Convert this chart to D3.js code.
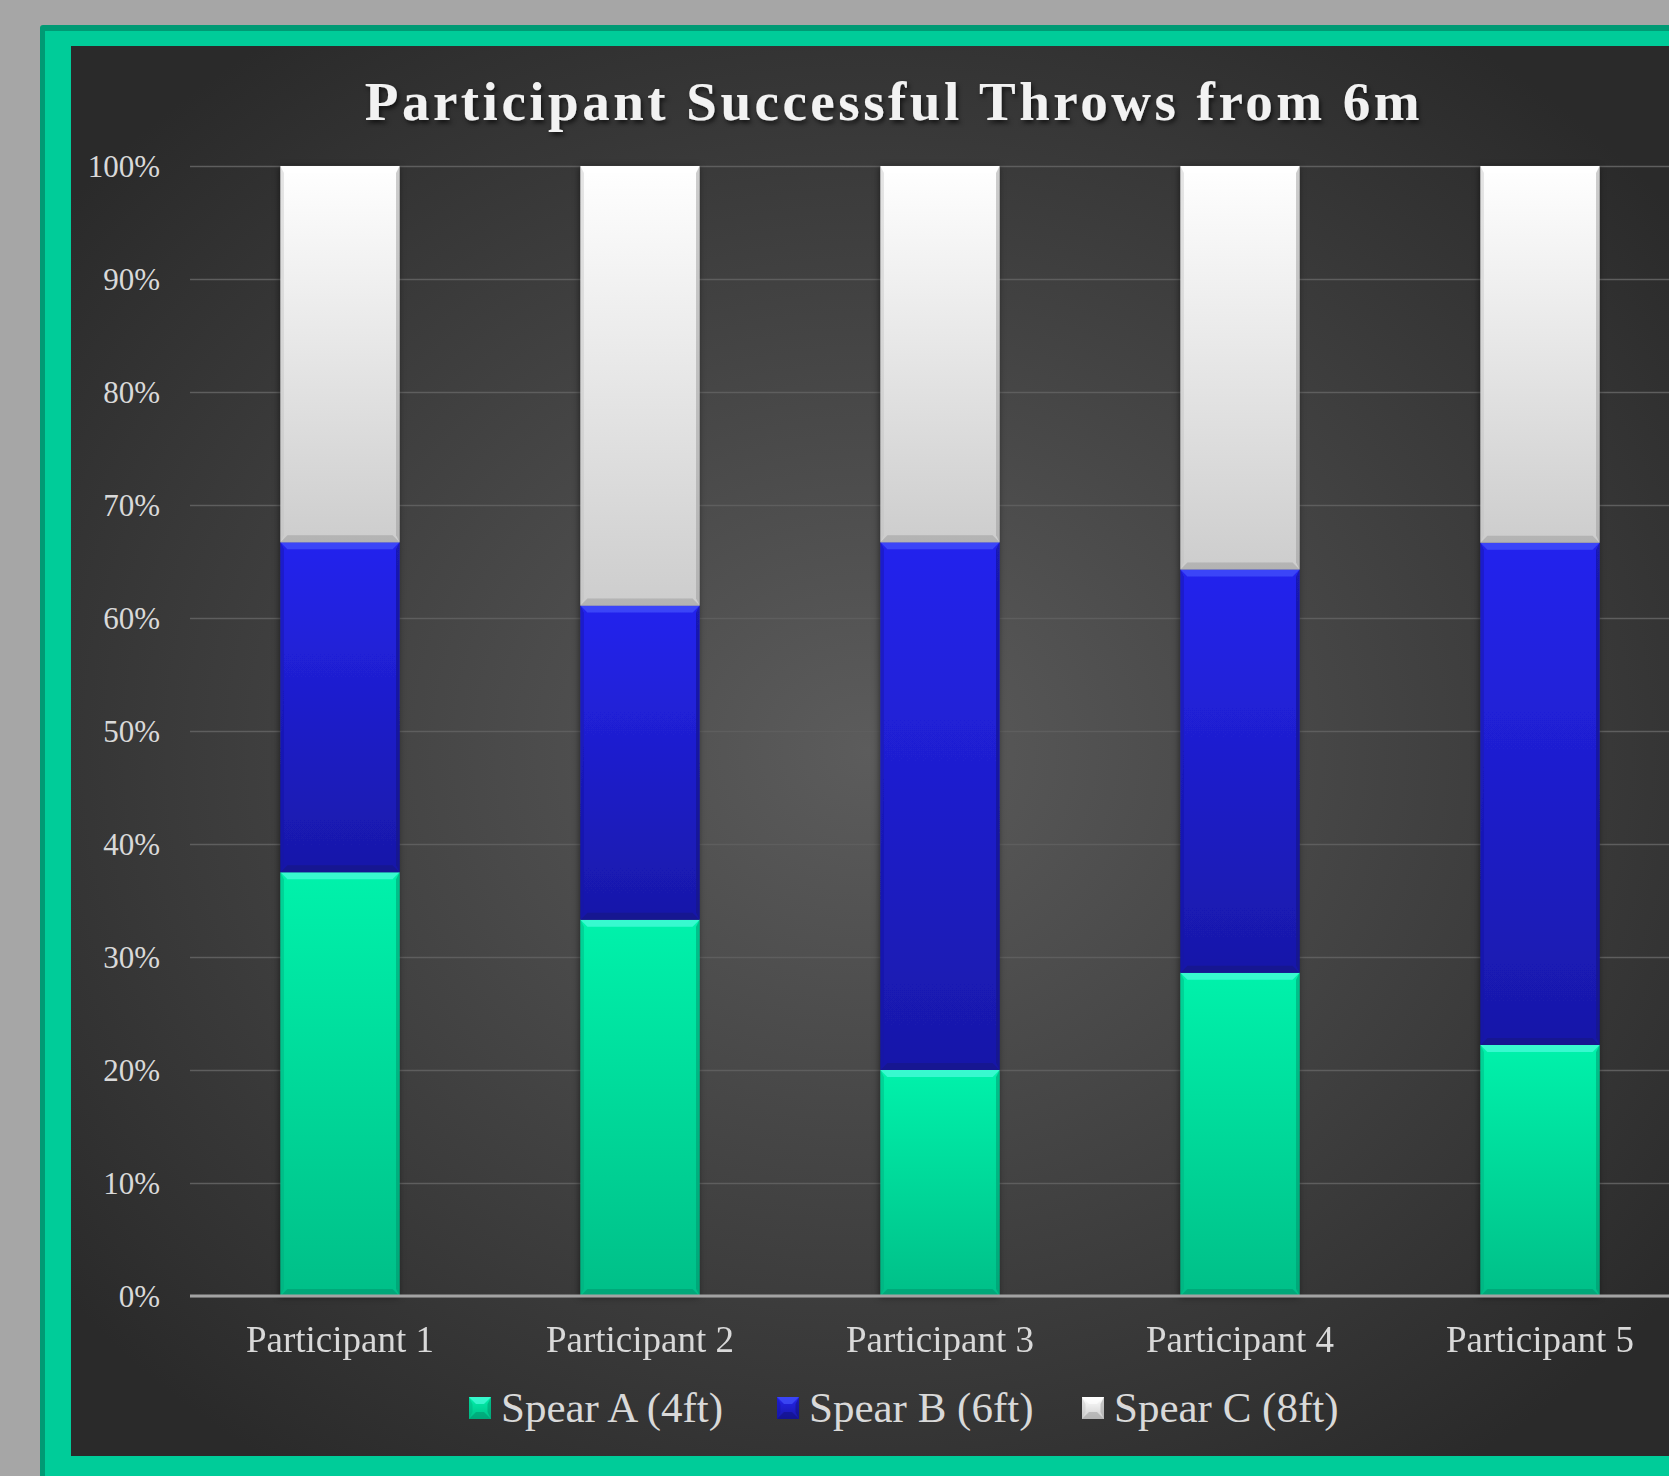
<!DOCTYPE html>
<html>
<head>
<meta charset="utf-8">
<script src="https://cdn.jsdelivr.net/npm/d3@7/dist/d3.min.js"></script>
<style>
  html, body { margin: 0; padding: 0; background: #a6a6a6; }
  svg { display: block; }
</style>
</head>
<body>
<svg id="chart" width="1669" height="1476"></svg>
<script>
// chart values (percent of successful throws per participant)
var participants = ["Participant 1", "Participant 2", "Participant 3", "Participant 4", "Participant 5"];
var spearNames = ["Spear A (4ft)", "Spear B (6ft)", "Spear C (8ft)"];
var spearA = [37.5, 33.3, 20.0, 28.6, 22.2];
var spearB = [29.2, 27.8, 46.7, 35.7, 44.4];
var spearC = [33.3, 38.9, 33.3, 35.7, 33.3];
var yTicks = [0, 0.1, 0.2, 0.3, 0.4, 0.5, 0.6, 0.7, 0.8, 0.9, 1];

var colors = [
    {top: "#00f2ab", bot: "#00bf88", hi: "#5cffe8", lo: "#00906a", side: "#00a87a"},
    {top: "#2424ee", bot: "#1818a8", hi: "#4a5cff", lo: "#10107a", side: "#1414a0"},
    {top: "#ffffff", bot: "#cdcdcd", hi: "#ffffff", lo: "#9a9a9a", side: "#bdbdbd"}
];

var svg = d3.select("#chart");
var defs = svg.append("defs");

// background of the panel
var bg = defs.append("radialGradient").attr("id", "bg")
    .attr("cx", "48%").attr("cy", "50%").attr("r", "62%");
bg.append("stop").attr("offset", "0%").attr("stop-color", "#5c5c5c");
bg.append("stop").attr("offset", "100%").attr("stop-color", "#2a2a2a");

colors.forEach(function (c, i) {
    var g = defs.append("linearGradient").attr("id", "grad" + i)
        .attr("x1", 0).attr("y1", 0).attr("x2", 0).attr("y2", 1);
    g.append("stop").attr("offset", "0%").attr("stop-color", c.top);
    g.append("stop").attr("offset", "100%").attr("stop-color", c.bot);
});

var shadow = defs.append("filter").attr("id", "shadow")
    .attr("x", "-20%").attr("y", "-5%").attr("width", "140%").attr("height", "110%");
shadow.append("feDropShadow").attr("dx", -1).attr("dy", 1).attr("stdDeviation", 3)
    .attr("flood-color", "#000").attr("flood-opacity", 0.5);

var tshadow = defs.append("filter").attr("id", "tshadow")
    .attr("x", "-5%").attr("y", "-20%").attr("width", "110%").attr("height", "140%");
tshadow.append("feDropShadow").attr("dx", 2).attr("dy", 3).attr("stdDeviation", 2)
    .attr("flood-color", "#000").attr("flood-opacity", 0.6);

// frame
svg.append("rect").attr("x", 40).attr("y", 25).attr("width", 1700).attr("height", 1500)
    .attr("rx", 3).attr("fill", "#009a74");
svg.append("rect").attr("x", 45).attr("y", 31).attr("width", 1700).attr("height", 1500)
    .attr("fill", "#00cc99");
svg.append("rect").attr("x", 71).attr("y", 46).attr("width", 1660).attr("height", 1410)
    .attr("fill", "url(#bg)");

var x = d3.scaleBand().domain(participants).range([190, 1690])
    .paddingInner(0.603).paddingOuter(0.3015);
var y = d3.scaleLinear().domain([0, 1]).range([1296, 166]);

// gridlines + y labels
var yAxis = svg.append("g").attr("transform", "translate(190,0)")
    .call(d3.axisLeft(y).tickValues(yTicks).tickSize(-1500).tickPadding(30)
        .tickFormat(d3.format(".0%")));
yAxis.select(".domain").remove();
yAxis.selectAll(".tick line").attr("stroke", "#5e5e5e").attr("stroke-width", 1.5);
yAxis.selectAll(".tick text")
    .attr("fill", "#d9d9d9")
    .style("font-family", "'Liberation Serif', 'Times New Roman', serif")
    .style("font-size", "31px")
    .attr("dy", "0.34em");

var rows = participants.map(function (p, i) {
    return {name: p, A: spearA[i], B: spearB[i], C: spearC[i]};
});
var series = d3.stack().keys(["A", "B", "C"]).offset(d3.stackOffsetExpand)(rows);

var bev = 7;
function bevel(sel, c, x0, x1, y0, y1) {
    var b = Math.min(bev, (y0 - y1) / 2);
    sel.append("rect").attr("x", x0).attr("y", y1).attr("width", x1 - x0).attr("height", y0 - y1)
        .attr("fill", "url(#grad" + c + ")");
    // top highlight
    sel.append("polygon").attr("points", [[x0, y1], [x1, y1], [x1 - b, y1 + b], [x0 + b, y1 + b]].join(" "))
        .attr("fill", colors[c].hi).attr("opacity", 0.6);
    // sides
    sel.append("polygon").attr("points", [[x0, y1], [x0 + b * 0.5, y1 + b], [x0 + b * 0.5, y0 - b], [x0, y0]].join(" "))
        .attr("fill", colors[c].side).attr("opacity", 0.4);
    sel.append("polygon").attr("points", [[x1, y1], [x1 - b * 0.5, y1 + b], [x1 - b * 0.5, y0 - b], [x1, y0]].join(" "))
        .attr("fill", colors[c].lo).attr("opacity", 0.5);
    // bottom
    sel.append("polygon").attr("points", [[x0, y0], [x1, y0], [x1 - b, y0 - b], [x0 + b, y0 - b]].join(" "))
        .attr("fill", colors[c].lo).attr("opacity", 0.5);
}

var bars = svg.append("g").attr("filter", "url(#shadow)");
series.forEach(function (s, si) {
    s.forEach(function (d) {
        var x0 = x(d.data.name), x1 = x0 + x.bandwidth();
        bevel(bars.append("g"), si, x0, x1, y(d[0]), y(d[1]));
    });
});

// baseline + category labels
var xAxis = svg.append("g").attr("transform", "translate(0,1296)")
    .call(d3.axisBottom(x).tickSize(0).tickPadding(0));
xAxis.select(".domain").remove();
svg.append("line").attr("x1", 190).attr("x2", 1669).attr("y1", 1296).attr("y2", 1296)
    .attr("stroke", "#a3a3a3").attr("stroke-width", 3);
xAxis.selectAll(".tick text")
    .attr("y", 56).attr("dy", 0)
    .attr("fill", "#d9d9d9")
    .style("font-family", "'Liberation Serif', 'Times New Roman', serif")
    .style("font-size", "37px");

// title
svg.append("text")
    .attr("x", 894).attr("y", 120)
    .attr("text-anchor", "middle")
    .attr("fill", "#f2f2f2")
    .attr("filter", "url(#tshadow)")
    .style("font-family", "'Liberation Serif', 'Times New Roman', serif")
    .style("font-weight", "bold")
    .style("font-size", "55px")
    .style("letter-spacing", "3.5px")
    .text("Participant Successful Throws from 6m");

// legend
var legendX = [469, 777, 1082];
var legend = svg.append("g").selectAll("g").data(spearNames).enter().append("g")
    .attr("transform", function (d, i) { return "translate(" + legendX[i] + ",1397)"; });
legend.each(function (d, i) {
    var g = d3.select(this);
    bevel(g, i, 0, 22, 22, 0);
});
legend.append("text")
    .attr("x", 32).attr("y", 25)
    .attr("fill", "#d9d9d9")
    .style("font-family", "'Liberation Serif', 'Times New Roman', serif")
    .style("font-size", "43px")
    .text(function (d) { return d; });
</script>
</body>
</html>
